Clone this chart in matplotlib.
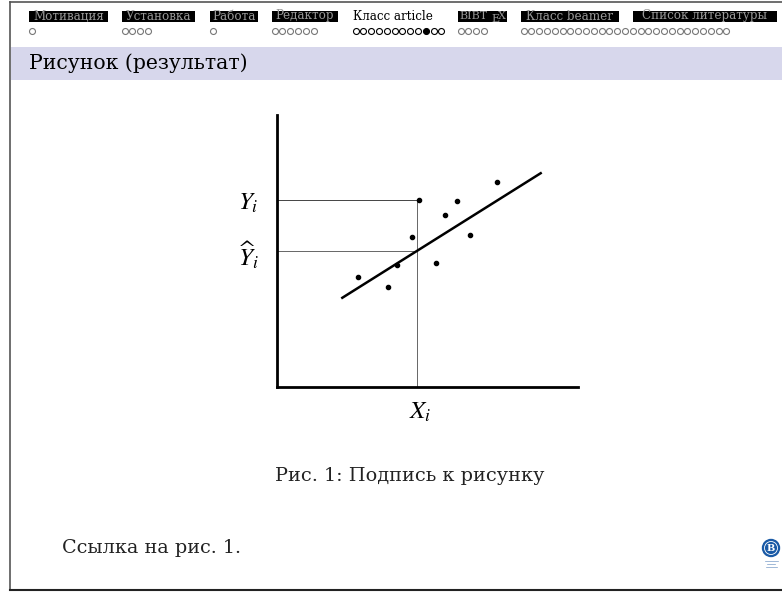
import matplotlib.pyplot as plt
from matplotlib.patches import Rectangle, Circle

# --- data (chart units 0..100) ---
point_x = [27.0, 36.8, 39.8, 44.8, 47.1, 52.9, 55.8, 59.9, 64.1, 73.0]
point_y = [40.6, 36.7, 44.9, 55.3, 68.8, 45.5, 63.1, 68.3, 55.9, 75.4]
line_x = [21.7, 87.6]
line_y = [32.8, 78.6]
x_i = 46.6
y_i = 68.8
y_hat = 50.0

# header navigation: section names and number of frames in each
sections = ['Мотивация', 'Установка', 'Работа', 'Редактор', 'Класс article',
            'BIBTEX', 'Класс beamer', 'Список литературы']
frames = [1, 4, 1, 6, 12, 4, 27, 0]
current_section = 4
current_frame = 9

title = 'Рисунок (результат)'
caption = 'Рис. 1: Подпись к рисунку'
ref_text = 'Ссылка на рис. 1.'

plt.rcParams['font.family'] = ['DejaVu Serif']
plt.rcParams['mathtext.fontset'] = 'stix'

fig = plt.figure(figsize=(7.82, 5.93), dpi=100)
bg = fig.add_axes([0, 0, 1, 1])
bg.set_xlim(0, 782)
bg.set_ylim(593, 0)
bg.axis('off')

# slide frame
bg.plot([10, 10], [2, 590], color='#555555', lw=1.2)
bg.plot([10, 782], [2, 2], color='#555555', lw=1.2)
bg.plot([10, 782], [590, 590], color='#222222', lw=1.5)

# header
sec_left = [29, 122, 210, 272, 353, 458, 521, 633]
sec_right = [108, 195, 258, 338, 446, 507, 619, 777]
for i, name in enumerate(sections):
    x0, x1 = sec_left[i], sec_right[i]
    if i == current_section:
        bg.text(x0, 16, name, fontsize=8.6, color='black', va='center', ha='left')
    else:
        bg.add_patch(Rectangle((x0, 11), x1 - x0, 11, color='black', lw=0))
        if name == 'BIBTEX':
            bg.text(x0 + 1, 16, 'BIBT', fontsize=8.0, color='#999999', va='center', ha='left')
            bg.text(x0 + 33, 19, 'E', fontsize=8.0, color='#999999', va='center', ha='left')
            bg.text(x0 + 40, 16, 'X', fontsize=8.0, color='#999999', va='center', ha='left')
        else:
            bg.text((x0 + x1) / 2, 16, name, fontsize=8.6, color='#999999',
                    va='center', ha='center')
    col = 'black' if i == current_section else '#777777'
    for k in range(frames[i]):
        filled = (i == current_section and k == current_frame)
        bg.plot(sec_left[i] + 2.5 + k * 7.8, 31, 'o', ms=4.3, mew=0.8,
                mec=col, mfc=col if filled else 'white')

# title band
bg.add_patch(Rectangle((11, 47), 771, 33, color='#d7d7ec', lw=0))
bg.text(29, 63, title, fontsize=14.7, va='center', ha='left')

# caption and text
bg.text(410, 476, caption, fontsize=13.9, va='center', ha='center', color='#222222')
bg.text(62, 548, ref_text, fontsize=13.8, va='center', ha='left', color='#222222')

# logo
bg.add_patch(Circle((771, 548), 8.5, color='#1a5aa6'))
bg.add_patch(Circle((771, 548), 6.5, fill=False, ec='white', lw=0.6))
bg.text(771, 548.5, 'В', fontsize=7, color='white', va='center', ha='center',
        fontweight='bold')
for yy, w in [(561, 13), (564, 8), (567, 11)]:
    bg.plot([771 - w / 2, 771 + w / 2], [yy, yy], color='#7a9cc8', lw=0.5)

# chart
ax = fig.add_axes([277 / 782, 1 - 387 / 593, (578 - 277) / 782, (387 - 115) / 593])
ax.set_xlim(0, 100)
ax.set_ylim(0, 100)
ax.patch.set_alpha(0)
for s in ['top', 'right']:
    ax.spines[s].set_visible(False)
ax.spines['left'].set_linewidth(2)
ax.spines['bottom'].set_linewidth(2)
ax.set_xticks([])
ax.set_yticks([])

ax.plot([0, x_i], [y_i, y_i], color='#444444', lw=0.7)
ax.plot([0, x_i], [y_hat, y_hat], color='#666666', lw=0.7)
ax.plot([x_i, x_i], [0, y_i], color='#666666', lw=0.7)
ax.plot(line_x, line_y, color='black', lw=1.8)
ax.plot(point_x, point_y, 'o', color='black', ms=3)

bg.text(248, 203, r'$Y_{i}$', fontsize=18, va='center', ha='center')
bg.text(248, 255, r'$\widehat{Y}_{i}$', fontsize=18, va='center', ha='center')
bg.text(420, 412, r'$X_{i}$', fontsize=18, va='center', ha='center')

plt.savefig('out.png', dpi=100)
